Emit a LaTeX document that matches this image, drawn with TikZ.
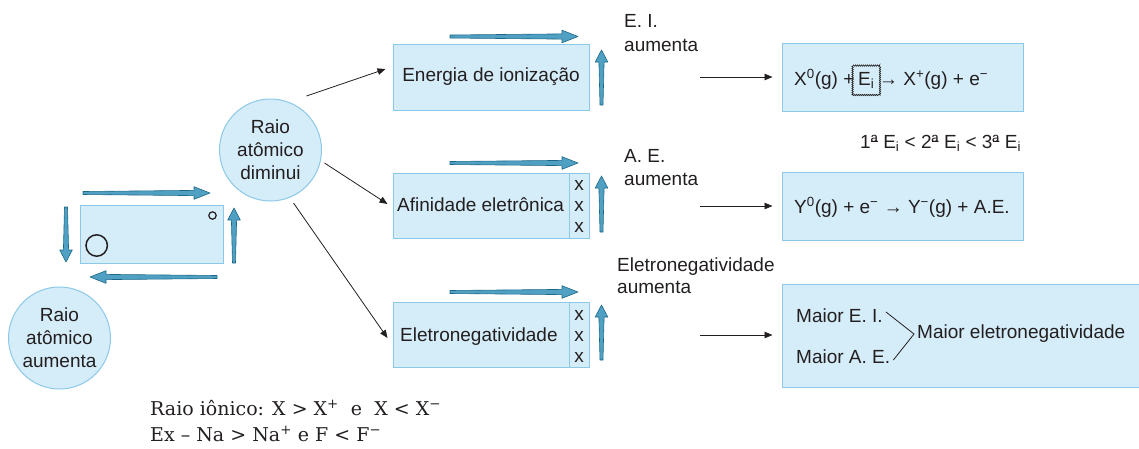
\documentclass[tikz,border=0pt]{standalone}
\usepackage{fontspec}
\setmainfont{Liberation Sans}
\newfontfamily\bottomserif{DejaVu Serif}
\usetikzlibrary{arrows.meta,decorations.pathmorphing,calc}
\definecolor{boxfill}{RGB}{213,236,249}
\definecolor{boxline}{RGB}{140,200,232}
\definecolor{fatfill}{RGB}{80,160,196}
\definecolor{fatline}{RGB}{28,104,136}
\definecolor{ink}{RGB}{35,31,32}
\newcommand\ordfem{\makebox[0pt][l]{ª}\raisebox{0.3em}{\hspace{0.02em}\rule{0.34em}{0.055em}}\hspace{0.02em}}
% x, y, length, angle, head length
\newcommand\fatarrow[5]{%
  \filldraw[fatstyle, shift={(#1,#2)}, rotate=#4]
    (0,-1.5) -- ({#3-#5},-2.6) -- ({#3-#5},-6.3) -- (#3,0) -- ({#3-#5},6.3) -- ({#3-#5},2.6) -- (0,1.5) -- cycle;}
\begin{document}
\begin{tikzpicture}[x=1pt,y=-1pt,
  every node/.style={font=\fontsize{19}{23}\selectfont, text=ink},
  box/.style={draw=boxline, fill=boxfill, line width=1pt, rectangle, inner sep=0pt},
  ball/.style={draw=boxline, fill=boxfill, line width=1pt, circle, minimum size=102pt, inner sep=0pt, align=center},
  txt/.style={inner sep=0pt},
  xcol/.style={inner sep=0pt, align=center, font=\fontsize{19}{21}\selectfont},
  conn/.style={draw=ink, line width=0.8pt, -{Triangle[length=8pt,width=6.5pt]}},
  fatstyle/.style={fill=fatfill, draw=fatline, line width=0.6pt, line join=round},
  ring/.style={draw=ink, line width=1.4pt},
  zigbox/.style={inner sep=0pt, minimum width=27pt, minimum height=29pt},
  zigline/.style={draw=ink, line width=0.6pt, decorate, decoration={zigzag, segment length=2pt, amplitude=0.7pt}},
  bot/.style={inner sep=0pt, anchor=base west, font=\bottomserif\fontsize{19}{26}\selectfont}]
\useasboundingbox (0,0) rectangle (1139,448);

% periodic table sketch
\node[box, minimum width=143pt, minimum height=58pt] (tab) at (151.5,234) {};
\draw[ring, line width=1.2pt] (212.5,215.5) circle (3.7);
\draw[ring, line width=1.5pt] (96.7,245.5) circle (10.7);
\fatarrow{83}{193}{127}{0}{16}
\fatarrow{217}{277}{127}{180}{16}
\fatarrow{66}{207}{55}{-90}{12}
\fatarrow{234}{263}{55}{90}{12}

% circles
\node[ball] (aum) at (59.5,338) {Raio\\atômico\\aumenta};
\node[ball] (dim) at (270.5,150) {Raio\\atômico\\diminui};

% middle boxes
\node[box, minimum width=196pt, minimum height=66pt] (ei) at (491,77) {Energia de ionização};
\node[box, minimum width=196pt, minimum height=65pt] (af) at (491,205.5) {};
\node[box, minimum width=196pt, minimum height=65pt] (en) at (491,334.5) {};
\draw[boxline, line width=1pt] ($(af.north east)+(-20,0)$) -- ($(af.south east)+(-20,0)$);
\draw[boxline, line width=1pt] ($(en.north east)+(-20,0)$) -- ($(en.south east)+(-20,0)$);
\node[txt, anchor=west] (aft) at (397,205) {Afinidade eletrônica};
\node[txt, anchor=west] (ent) at (400,337) {Eletronegatividade};
\node[xcol] (afx) at (579,206) {x\\x\\x};
\node[xcol] (enx) at (579,336) {x\\x\\x};

\fatarrow{450}{36.5}{128}{0}{16}
\fatarrow{450}{163}{128}{0}{16}
\fatarrow{450}{292}{128}{0}{16}
\fatarrow{601.5}{105}{55}{90}{12}
\fatarrow{601.5}{232}{56}{90}{12}
\fatarrow{601.5}{360}{55}{90}{12}

% labels (base = baseline of the last line)
\node[txt, anchor=base west, align=left, font=\fontsize{19}{24.5}\selectfont] (lei) at (624,51.5) {E. I.\\aumenta};
\node[txt, anchor=base west, align=left, font=\fontsize{19}{23}\selectfont] (lae) at (624,185) {A. E.\\aumenta};
\node[txt, anchor=base west, align=left, font=\fontsize{19}{21.5}\selectfont] (len) at (617,293) {Eletronegatividade\\aumenta};

% connectors from circle
\coordinate (d1) at ($(dim.center)+(36,-54)$);
\coordinate (d2) at ($(dim.center)+(54,13)$);
\coordinate (d3) at ($(dim.center)+(23,53)$);
\draw[conn] (d1) -- ($(ei.west)+(-7,-8)$);
\draw[conn] (d2) -- ($(af.west)+(-5,-1.5)$);
\draw[conn] (d3) -- ($(en.west)+(-5,3.5)$);

% right boxes
\node[box, minimum width=241pt, minimum height=68pt] (rb1) at (902.5,77) {};
\node[box, minimum width=241pt, minimum height=68pt] (rb2) at (902.5,206) {};
\node[box, minimum width=363pt, minimum height=103pt] (rb3) at (963.5,335.5) {};

\coordinate (s1) at (700,77);
\coordinate (s2) at (700,206);
\coordinate (s3) at (700,335);
\draw[conn, shorten >=9pt] (s1) -- (s1 -| rb1.west);
\draw[conn, shorten >=9pt] (s2) -- (s2 -| rb2.west);
\draw[conn, shorten >=9pt] (s3) -- (s3 -| rb3.west);

% equation 1
\node[txt, anchor=base west] (q1) at (794,85) {X\textsuperscript{0}(g) +};
\node[zigbox, anchor=base west] (eib) at ($(q1.base east)+(-2,0)$) {E\textsubscript{i}};
\draw[zigline] (eib.south west) rectangle (eib.north east);
\node[txt, anchor=base west] (q2) at ($(eib.base east)+(-1,0)$) {→ X\textsuperscript{+}(g) + e\textsuperscript{−}};
\node[txt, anchor=base west] (ord) at (860,148) {1\ordfem{} E\textsubscript{i} < 2\ordfem{} E\textsubscript{i} < 3\ordfem{} E\textsubscript{i}};

% equation 2
\node[txt, anchor=base west] (q3) at (794,213) {Y\textsuperscript{0}(g) + e\textsuperscript{−} → Y\textsuperscript{−}(g) + A.E.};

% electronegativity box
\node[txt, anchor=west, inner sep=3pt] (mei) at (793,316) {Maior E. I.};
\node[txt, anchor=west, inner sep=3pt] (mae) at (793,357) {Maior A. E.};
\node[txt, anchor=west, inner sep=3pt] (mx) at (914,334) {Maior eletronegatividade};
\draw[ink, line width=0.8pt] ($(mei.east)+(0,-4)$) -- (mx.west) -- ($(mae.east)+(0,3)$);

% bottom text
\node[bot] (b1) at (150,415) {Raio iônico: X > X\textsuperscript{+}\ \ e\ \ X < X\textsuperscript{−}};
\node[bot] (b2) at (150,441) {Ex – Na > Na\textsuperscript{+} e F < F\textsuperscript{−}};
\end{tikzpicture}
\end{document}
